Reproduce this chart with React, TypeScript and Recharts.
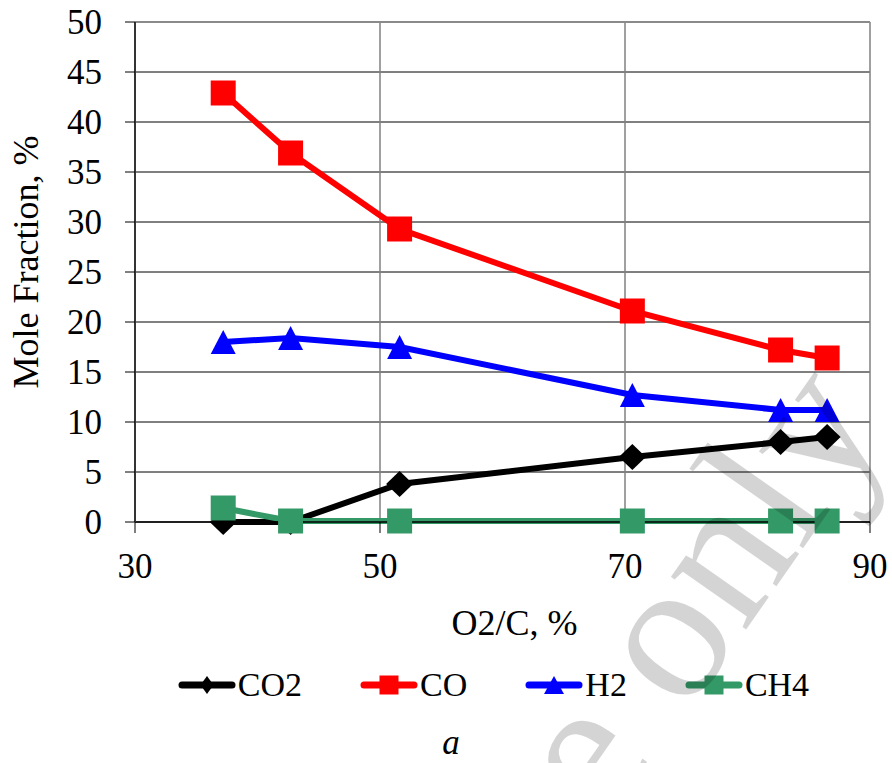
import React from 'react';
import { LineChart, Line, XAxis, YAxis, CartesianGrid, Legend, ReferenceLine } from 'recharts';

const FONT = '"Liberation Serif", "Times New Roman", serif';

// O2/C ratio, % (x values)
const o2cPercent = [37.2, 42.7, 51.6, 70.6, 82.7, 86.5];
// Mole fractions, %
const co2Values = [0, 0, 3.8, 6.5, 8.0, 8.5];
const coValues = [42.9, 36.9, 29.3, 21.1, 17.2, 16.4];
const h2Values = [18.0, 18.4, 17.5, 12.7, 11.2, 11.2];
const ch4Values = [1.4, 0.1, 0.1, 0.1, 0.1, 0.1];

const xTicks = [30, 50, 70, 90];
const yTicks = [0, 5, 10, 15, 20, 25, 30, 35, 40, 45, 50];

const seriesNames = ['CO2', 'CO', 'H2', 'CH4'];
const seriesColors = ['#000000', '#ff0000', '#0000ff', '#339966'];
const seriesShapes = ['diamond', 'square', 'triangle', 'square'];
const seriesValues = [co2Values, coValues, h2Values, ch4Values];

const data = o2cPercent.map((x, i) => {
  const row: Record<string, number> = { x };
  seriesNames.forEach((n, s) => {
    row[n] = seriesValues[s][i];
  });
  return row;
});

const chartSize = { width: 892, height: 763 };

function markerPath(shape: string, cx: number, cy: number, w: number, h: number) {
  if (shape === 'diamond') {
    return `M${cx},${cy - h / 2} L${cx + w / 2},${cy} L${cx},${cy + h / 2} L${cx - w / 2},${cy} Z`;
  }
  if (shape === 'triangle') {
    return `M${cx},${cy - h / 2} L${cx + w / 2},${cy + h / 2} L${cx - w / 2},${cy + h / 2} Z`;
  }
  return `M${cx - w / 2},${cy - h / 2} h${w} v${h} h${-w} Z`;
}

const plotMarker: Record<string, [number, number]> = {
  diamond: [27, 26],
  square: [25, 25],
  triangle: [25, 24],
};
const legendMarker: Record<string, [number, number]> = {
  diamond: [13, 18],
  square: [19, 19],
  triangle: [20, 18],
};

const makeDot = (shape: string, color: string) => (props: any) => {
  const { cx, cy, index } = props;
  if (cx == null || cy == null) return <g key={`e-${shape}-${index}`} />;
  const [w, h] = plotMarker[shape];
  return <path key={`${shape}-${color}-${index}`} d={markerPath(shape, cx, cy, w, h)} fill={color} stroke="none" />;
};

const LegendContent = () => (
  <div
    style={{
      display: 'flex',
      justifyContent: 'center',
      alignItems: 'center',
      height: 46,
      paddingLeft: 95,
      fontFamily: FONT,
      fontSize: 34,
      color: '#000',
    }}
  >
    {seriesNames.map((name, i) => {
      const [w, h] = legendMarker[seriesShapes[i]];
      return (
        <div key={name} style={{ display: 'flex', alignItems: 'center', marginLeft: i === 0 ? 0 : 58 }}>
          <svg width={58} height={24} style={{ display: 'block' }}>
            <line x1={4} y1={12} x2={54} y2={12} stroke={seriesColors[i]} strokeWidth={7} strokeLinecap="round" />
            <path d={markerPath(seriesShapes[i], 29, 12, w, h)} fill={seriesColors[i]} />
          </svg>
          <span style={{ marginLeft: 2, lineHeight: '46px' }}>{name}</span>
        </div>
      );
    })}
  </div>
);

const YTitle = (props: any) => {
  const vb = props.viewBox || { x: 0, y: 22, width: 135, height: 500 };
  const x = vb.x + 38;
  const y = vb.y + vb.height / 2 - 10;
  return (
    <text transform={`translate(${x},${y}) rotate(-90)`} textAnchor="middle" fontFamily={FONT} fontSize={36} fill="#000">
      Mole Fraction, %
    </text>
  );
};

const XTitle = (props: any) => {
  const vb = props.viewBox || { x: 135, y: 522, width: 735, height: 130 };
  const x = vb.x + vb.width / 2 + 12;
  const y = vb.y + 113;
  return (
    <text x={x} y={y} textAnchor="middle" fontFamily={FONT} fontSize={36} fill="#000">
      O2/C, %
    </text>
  );
};

export default function App() {
  const tickStyle = { fontFamily: FONT, fontSize: 35, fill: '#000' };
  return (
    <div style={{ position: 'absolute', left: 0, top: 0, width: chartSize.width, height: chartSize.height, background: '#fff' }}>
      <LineChart
        width={chartSize.width}
        height={chartSize.height}
        data={data}
        margin={{ top: 22, right: 22, bottom: 111, left: 0 }}
      >
        <CartesianGrid horizontal={true} vertical={false} stroke="#000" strokeWidth={1} />
        <CartesianGrid horizontal={false} vertical={true} stroke="#808080" strokeWidth={1.5} />
        <ReferenceLine y={50} stroke="#8a8a8a" strokeWidth={2} />
        <XAxis
          dataKey="x"
          type="number"
          domain={[30, 90]}
          ticks={xTicks}
          height={130}
          tickSize={11}
          tickMargin={20}
          tick={tickStyle}
          axisLine={{ stroke: '#000', strokeWidth: 1.5 }}
          tickLine={{ stroke: '#000', strokeWidth: 1 }}
          label={<XTitle />}
        />
        <YAxis
          type="number"
          domain={[0, 50]}
          ticks={yTicks}
          width={135}
          tickSize={10}
          tickMargin={23}
          tick={tickStyle}
          axisLine={{ stroke: '#333', strokeWidth: 2 }}
          tickLine={{ stroke: '#000', strokeWidth: 1 }}
          label={<YTitle />}
        />
        <Legend
          layout="horizontal"
          verticalAlign="middle"
          align="center"
          wrapperStyle={{ left: 0, top: 662, width: 892, height: 46 }}
          content={<LegendContent />}
        />
        {seriesNames.map((name, i) => (
          <Line
            key={name}
            type="linear"
            dataKey={name}
            stroke={seriesColors[i]}
            strokeWidth={6}
            dot={makeDot(seriesShapes[i], seriesColors[i])}
            activeDot={false}
            isAnimationActive={false}
          />
        ))}
      </LineChart>
      <svg
        width={chartSize.width}
        height={chartSize.height}
        style={{ position: 'absolute', left: 0, top: 0, pointerEvents: 'none' }}
      >
        <text x={451} y={754} textAnchor="middle" fontFamily={FONT} fontStyle="italic" fontSize={35} fill="#000">
          a
        </text>
        <text
          transform="translate(890,424) rotate(-55)"
          textAnchor="end"
          fontFamily={FONT}
          fontSize={200}
          fill="#000"
          fillOpacity={0.17}
        >
          For personal use only
        </text>
      </svg>
    </div>
  );
}
